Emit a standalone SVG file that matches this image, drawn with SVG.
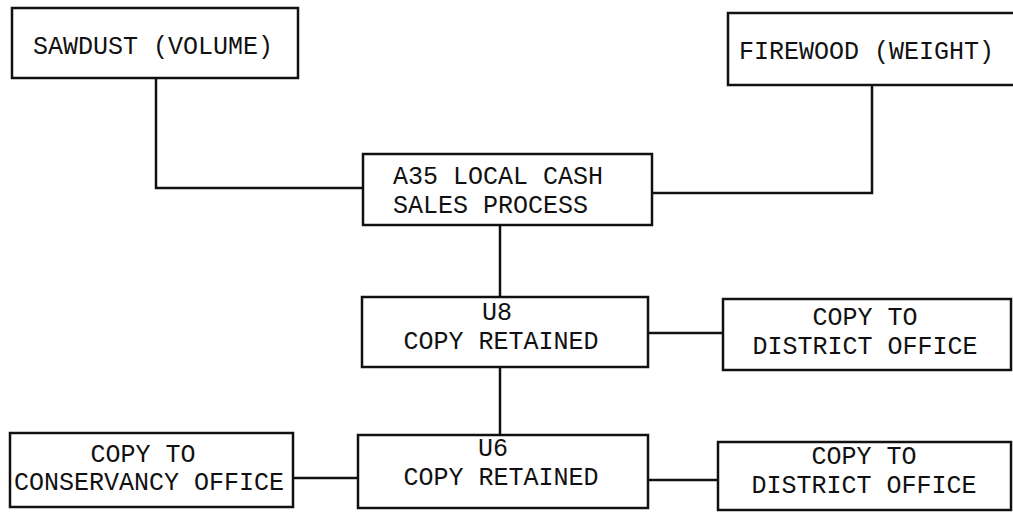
<svg xmlns="http://www.w3.org/2000/svg" width="1013" height="512" viewBox="0 0 1013 512">
  <style>
    .box { fill: #ffffff; stroke: #111111; stroke-width: 2.5; }
    .wire { fill: none; stroke: #111111; stroke-width: 2.5; }
    text { font-family: "Liberation Mono", "DejaVu Sans Mono", monospace; font-size: 25px; fill: #111111; }
    .mid { text-anchor: middle; }
  </style>
  <rect width="1013" height="512" fill="#ffffff"/>

  <!-- connectors -->
  <g id="connectors">
    <polyline class="wire" points="156,78 156,188 363,188"/>
    <polyline class="wire" points="872,85 872,193 652,193"/>
    <line class="wire" x1="500" y1="225" x2="500" y2="297"/>
    <line class="wire" x1="648" y1="333" x2="723" y2="333"/>
    <line class="wire" x1="500" y1="367" x2="500" y2="435"/>
    <line class="wire" x1="293" y1="478" x2="358" y2="478"/>
    <line class="wire" x1="648" y1="480" x2="718" y2="480"/>
  </g>

  <g id="sawdust">
    <rect class="box" x="12" y="8" width="286" height="70"/>
    <text x="33" y="54">SAWDUST (VOLUME)</text>
  </g>

  <g id="firewood">
    <rect class="box" x="728" y="13" width="300" height="72"/>
    <text x="739" y="59">FIREWOOD (WEIGHT)</text>
  </g>

  <g id="a35">
    <rect class="box" x="363" y="154" width="289" height="71"/>
    <text x="393" y="184">A35 LOCAL CASH</text>
    <text x="393" y="213">SALES PROCESS</text>
  </g>

  <g id="u8">
    <rect class="box" x="362" y="297" width="286" height="70"/>
    <text class="mid" x="497" y="320">U8</text>
    <text class="mid" x="501" y="349">COPY RETAINED</text>
  </g>

  <g id="district1">
    <rect class="box" x="723" y="299" width="288" height="71"/>
    <text class="mid" x="865" y="325">COPY TO</text>
    <text class="mid" x="865" y="354">DISTRICT OFFICE</text>
  </g>

  <g id="u6">
    <rect class="box" x="358" y="435" width="290" height="73"/>
    <text class="mid" x="493" y="456">U6</text>
    <text class="mid" x="501" y="485">COPY RETAINED</text>
  </g>

  <g id="conservancy">
    <rect class="box" x="10" y="433" width="283" height="74"/>
    <text class="mid" x="143" y="462">COPY TO</text>
    <text class="mid" x="149" y="490">CONSERVANCY OFFICE</text>
  </g>

  <g id="district2">
    <rect class="box" x="718" y="442" width="293" height="68"/>
    <text class="mid" x="864" y="464">COPY TO</text>
    <text class="mid" x="864" y="493">DISTRICT OFFICE</text>
  </g>
</svg>
